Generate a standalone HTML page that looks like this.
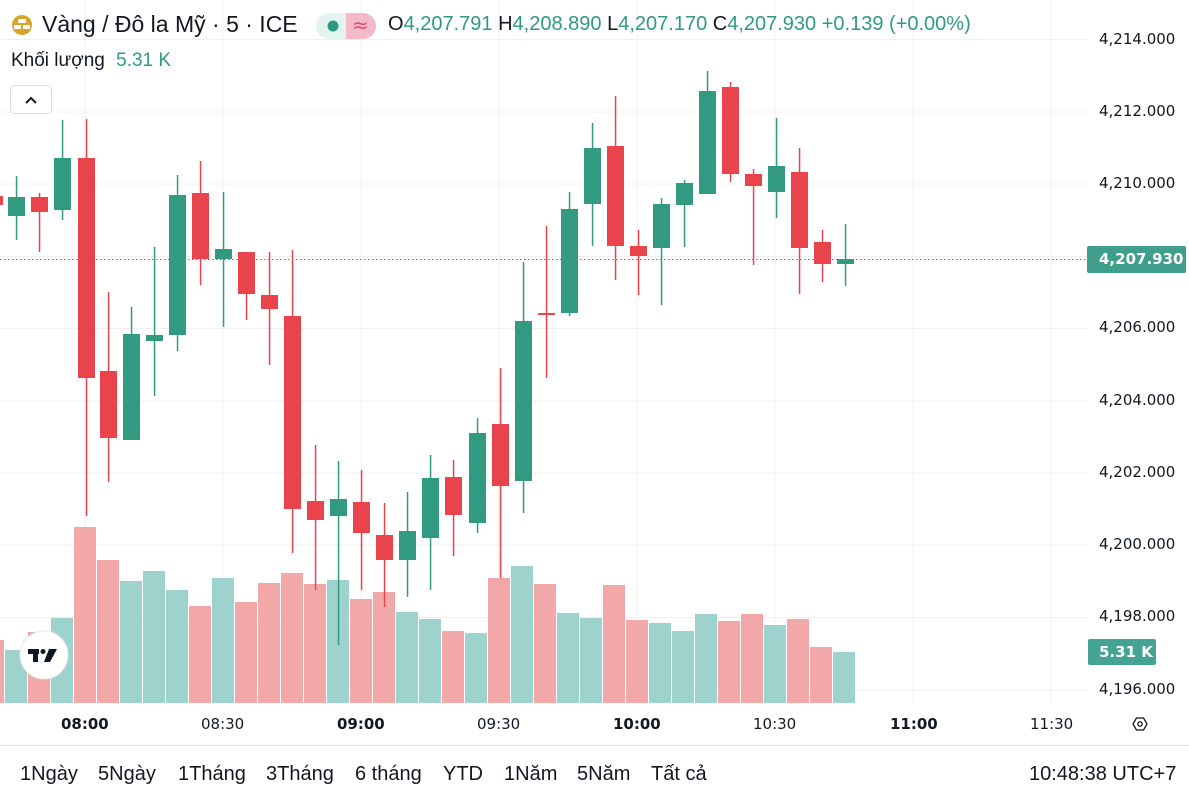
<!DOCTYPE html><html><head><meta charset="utf-8"><style>
body{margin:0;width:1189px;height:802px;background:#fff;font-family:"Liberation Sans",sans-serif;position:relative;overflow:hidden}
.t{position:absolute;white-space:nowrap}
.a{font-family:"DejaVu Sans",sans-serif;font-size:15px;color:#131722;position:absolute;white-space:nowrap}
.b{position:absolute;top:763px;font-size:20px;color:#131722;white-space:nowrap}
</style></head><body>
<svg width="1189" height="802" style="position:absolute;left:0;top:0">
<g stroke="#f0f0f2" stroke-width="1">
<line x1="0" y1="39.5" x2="1087" y2="39.5"/><line x1="0" y1="112" x2="1087" y2="112"/><line x1="0" y1="184" x2="1087" y2="184"/><line x1="0" y1="256.5" x2="1087" y2="256.5"/><line x1="0" y1="328.5" x2="1087" y2="328.5"/><line x1="0" y1="401" x2="1087" y2="401"/><line x1="0" y1="473" x2="1087" y2="473"/><line x1="0" y1="545" x2="1087" y2="545"/><line x1="0" y1="617.5" x2="1087" y2="617.5"/><line x1="0" y1="690" x2="1087" y2="690"/>
<line x1="85" y1="0" x2="85" y2="703"/><line x1="223" y1="0" x2="223" y2="703"/><line x1="361" y1="0" x2="361" y2="703"/><line x1="499" y1="0" x2="499" y2="703"/><line x1="637" y1="0" x2="637" y2="703"/><line x1="775" y1="0" x2="775" y2="703"/><line x1="913" y1="0" x2="913" y2="703"/><line x1="1051" y1="0" x2="1051" y2="703"/>
</g>
<line x1="0" y1="745.5" x2="1189" y2="745.5" stroke="#e0e3eb"/>
<g>
<rect x="0" y="640" width="4" height="63" fill="#f2a8a8"/>
<rect x="5" y="650" width="22" height="53" fill="#9dd3cc"/><rect x="28" y="632" width="22" height="71" fill="#f2a8a8"/><rect x="51" y="618" width="22" height="85" fill="#9dd3cc"/><rect x="74" y="527" width="22" height="176" fill="#f2a8a8"/><rect x="97" y="560" width="22" height="143" fill="#f2a8a8"/><rect x="120" y="581" width="22" height="122" fill="#9dd3cc"/><rect x="143" y="571" width="22" height="132" fill="#9dd3cc"/><rect x="166" y="590" width="22" height="113" fill="#9dd3cc"/><rect x="189" y="606" width="22" height="97" fill="#f2a8a8"/><rect x="212" y="578" width="22" height="125" fill="#9dd3cc"/><rect x="235" y="602" width="22" height="101" fill="#f2a8a8"/><rect x="258" y="583" width="22" height="120" fill="#f2a8a8"/><rect x="281" y="573" width="22" height="130" fill="#f2a8a8"/><rect x="304" y="584" width="22" height="119" fill="#f2a8a8"/><rect x="327" y="580" width="22" height="123" fill="#9dd3cc"/><rect x="350" y="599" width="22" height="104" fill="#f2a8a8"/><rect x="373" y="592" width="22" height="111" fill="#f2a8a8"/><rect x="396" y="612" width="22" height="91" fill="#9dd3cc"/><rect x="419" y="619" width="22" height="84" fill="#9dd3cc"/><rect x="442" y="631" width="22" height="72" fill="#f2a8a8"/><rect x="465" y="633" width="22" height="70" fill="#9dd3cc"/><rect x="488" y="578" width="22" height="125" fill="#f2a8a8"/><rect x="511" y="566" width="22" height="137" fill="#9dd3cc"/><rect x="534" y="584" width="22" height="119" fill="#f2a8a8"/><rect x="557" y="613" width="22" height="90" fill="#9dd3cc"/><rect x="580" y="618" width="22" height="85" fill="#9dd3cc"/><rect x="603" y="585" width="22" height="118" fill="#f2a8a8"/><rect x="626" y="620" width="22" height="83" fill="#f2a8a8"/><rect x="649" y="623" width="22" height="80" fill="#9dd3cc"/><rect x="672" y="631" width="22" height="72" fill="#9dd3cc"/><rect x="695" y="614" width="22" height="89" fill="#9dd3cc"/><rect x="718" y="621" width="22" height="82" fill="#f2a8a8"/><rect x="741" y="614" width="22" height="89" fill="#f2a8a8"/><rect x="764" y="625" width="22" height="78" fill="#9dd3cc"/><rect x="787" y="619" width="22" height="84" fill="#f2a8a8"/><rect x="810" y="647" width="22" height="56" fill="#f2a8a8"/><rect x="833" y="652" width="22" height="51" fill="#9dd3cc"/>
</g>
<line x1="0" y1="259.5" x2="1087" y2="259.5" stroke="#339a82" stroke-dasharray="1.5 2.5"/>
<g fill="#339a82">
<rect x="15.8" y="176" width="1.5" height="64"/><rect x="8" y="197" width="17" height="19"/>
<rect x="61.8" y="120" width="1.5" height="100"/><rect x="54" y="158" width="17" height="52"/>
<rect x="130.8" y="307" width="1.5" height="133"/><rect x="123" y="334" width="17" height="106"/>
<rect x="153.8" y="247" width="1.5" height="149"/><rect x="146" y="335" width="17" height="6"/>
<rect x="176.8" y="175" width="1.5" height="176"/><rect x="169" y="195" width="17" height="140"/>
<rect x="222.8" y="192" width="1.5" height="135"/><rect x="215" y="249" width="17" height="10"/>
<rect x="337.8" y="461" width="1.5" height="184"/><rect x="330" y="499" width="17" height="17"/>
<rect x="406.8" y="492" width="1.5" height="105"/><rect x="399" y="531" width="17" height="29"/>
<rect x="429.8" y="455" width="1.5" height="135"/><rect x="422" y="478" width="17" height="60"/>
<rect x="476.8" y="418" width="1.5" height="115"/><rect x="469" y="433" width="17" height="90"/>
<rect x="522.8" y="262" width="1.5" height="251"/><rect x="515" y="321" width="17" height="160"/>
<rect x="568.8" y="192" width="1.5" height="124"/><rect x="561" y="209" width="17" height="104"/>
<rect x="591.8" y="123" width="1.5" height="123"/><rect x="584" y="148" width="17" height="56"/>
<rect x="660.8" y="198" width="1.5" height="107"/><rect x="653" y="204" width="17" height="44"/>
<rect x="683.8" y="180" width="1.5" height="67"/><rect x="676" y="183" width="17" height="22"/>
<rect x="706.8" y="71" width="1.5" height="123"/><rect x="699" y="91" width="17" height="103"/>
<rect x="775.8" y="118" width="1.5" height="100"/><rect x="768" y="166" width="17" height="26"/>
<rect x="844.8" y="224" width="1.5" height="62"/><rect x="837" y="259" width="17" height="5"/>
</g>
<g fill="#e9444c">
<rect x="0" y="196" width="3" height="9"/>
<rect x="38.8" y="193" width="1.5" height="59"/><rect x="31" y="197" width="17" height="15"/>
<rect x="85.8" y="119" width="1.5" height="397"/><rect x="78" y="158" width="17" height="220"/>
<rect x="107.8" y="292" width="1.5" height="190"/><rect x="100" y="371" width="17" height="67"/>
<rect x="199.8" y="161" width="1.5" height="124"/><rect x="192" y="193" width="17" height="66"/>
<rect x="245.8" y="252" width="1.5" height="68"/><rect x="238" y="252" width="17" height="42"/>
<rect x="268.8" y="252" width="1.5" height="113"/><rect x="261" y="295" width="17" height="14"/>
<rect x="291.8" y="250" width="1.5" height="303"/><rect x="284" y="316" width="17" height="193"/>
<rect x="314.8" y="445" width="1.5" height="145"/><rect x="307" y="501" width="17" height="19"/>
<rect x="360.8" y="470" width="1.5" height="120"/><rect x="353" y="502" width="17" height="31"/>
<rect x="383.8" y="503" width="1.5" height="104"/><rect x="376" y="535" width="17" height="25"/>
<rect x="452.8" y="460" width="1.5" height="96"/><rect x="445" y="477" width="17" height="38"/>
<rect x="499.8" y="368" width="1.5" height="210"/><rect x="492" y="424" width="17" height="62"/>
<rect x="545.8" y="226" width="1.5" height="152"/><rect x="538" y="313" width="17" height="2"/>
<rect x="614.8" y="96" width="1.5" height="184"/><rect x="607" y="146" width="17" height="100"/>
<rect x="637.8" y="230" width="1.5" height="65"/><rect x="630" y="246" width="17" height="10"/>
<rect x="729.8" y="82" width="1.5" height="100"/><rect x="722" y="87" width="17" height="87"/>
<rect x="752.8" y="169" width="1.5" height="96"/><rect x="745" y="174" width="17" height="12"/>
<rect x="798.8" y="148" width="1.5" height="146"/><rect x="791" y="172" width="17" height="76"/>
<rect x="821.8" y="230" width="1.5" height="52"/><rect x="814" y="242" width="17" height="22"/>
</g>
<circle cx="44" cy="655" r="24" fill="#fff" stroke="#e8e8e8"/>
<g fill="#131722"><rect x="28" y="649" width="11" height="5"/><rect x="33" y="649" width="5" height="13"/><circle cx="43" cy="651.5" r="2.5"/><polygon points="49,649 57,649 50,662 44,662"/></g>
<circle cx="22" cy="25" r="10" fill="#d9a42a"/>
<g fill="#fff"><rect x="18" y="19" width="8" height="4"/><rect x="14" y="25" width="7" height="4"/><rect x="23" y="25" width="7" height="4"/></g>
<rect x="316" y="13" width="60" height="26" rx="13" fill="#e3f3ef"/>
<path d="M346 13h17a13 13 0 0 1 0 26h-17z" fill="#f4bacb"/>
<circle cx="333" cy="26" r="5.5" fill="#2f9a82"/>
<text x="352" y="32" font-size="20" font-family="DejaVu Sans" fill="#e04a72">≈</text>
<rect x="10.5" y="85.5" width="41" height="28" rx="4" fill="#fff" stroke="#dcdcdc"/>
<polyline points="26,103 31,98 36,103" fill="none" stroke="#131722" stroke-width="2"/>
<rect x="1087" y="246" width="99" height="27" rx="2" fill="#3f9f8c"/>
<rect x="1088" y="639" width="68" height="26" rx="2" fill="#45a393"/>
<polygon points="1133,724 1136.5,718 1143.5,718 1147,724 1143.5,730 1136.5,730" fill="none" stroke="#131722" stroke-width="1.3"/>
<circle cx="1140" cy="724" r="2.2" fill="none" stroke="#131722" stroke-width="1.3"/>
</svg>
<div class="t" style="left:42px;top:11px;font-size:23px;color:#131722">Vàng / Đô la Mỹ · 5 · ICE</div>
<div class="t" style="left:388px;top:13px;font-size:20px;color:#131722">O<span style="color:#2f9a82">4,207.791</span> H<span style="color:#2f9a82">4,208.890</span> L<span style="color:#2f9a82">4,207.170</span> C<span style="color:#2f9a82">4,207.930</span> <span style="color:#2f9a82">+0.139 (+0.00%)</span></div>
<div class="t" style="left:11px;top:50px;font-size:19px;color:#131722">Khối lượng <span style="color:#2f9a82;margin-left:6px">5.31 K</span></div>
<div class="a" style="left:1099px;top:30px">4,214.000</div>
<div class="a" style="left:1099px;top:102px">4,212.000</div>
<div class="a" style="left:1099px;top:174px">4,210.000</div>
<div class="a" style="left:1099px;top:318px">4,206.000</div>
<div class="a" style="left:1099px;top:391px">4,204.000</div>
<div class="a" style="left:1099px;top:463px">4,202.000</div>
<div class="a" style="left:1099px;top:535px">4,200.000</div>
<div class="a" style="left:1099px;top:607px">4,198.000</div>
<div class="a" style="left:1099px;top:680px">4,196.000</div>
<div class="a" style="left:1099px;top:250px;color:#fff;font-weight:bold">4,207.930</div>
<div class="a" style="left:1099px;top:643px;color:#fff;font-weight:bold">5.31 K</div>
<div class="a" style="left:61px;top:715px;font-weight:bold">08:00</div>
<div class="a" style="left:201px;top:715px">08:30</div>
<div class="a" style="left:337px;top:715px;font-weight:bold">09:00</div>
<div class="a" style="left:477px;top:715px">09:30</div>
<div class="a" style="left:613px;top:715px;font-weight:bold">10:00</div>
<div class="a" style="left:753px;top:715px">10:30</div>
<div class="a" style="left:890px;top:715px;font-weight:bold">11:00</div>
<div class="a" style="left:1030px;top:715px">11:30</div>
<div class="b" style="left:20px">1Ngày</div>
<div class="b" style="left:98px">5Ngày</div>
<div class="b" style="left:178px">1Tháng</div>
<div class="b" style="left:266px">3Tháng</div>
<div class="b" style="left:355px">6 tháng</div>
<div class="b" style="left:443px">YTD</div>
<div class="b" style="left:504px">1Năm</div>
<div class="b" style="left:577px">5Năm</div>
<div class="b" style="left:651px">Tất cả</div>
<div class="b" style="left:1029px">10:48:38 UTC+7</div>
</body></html>
